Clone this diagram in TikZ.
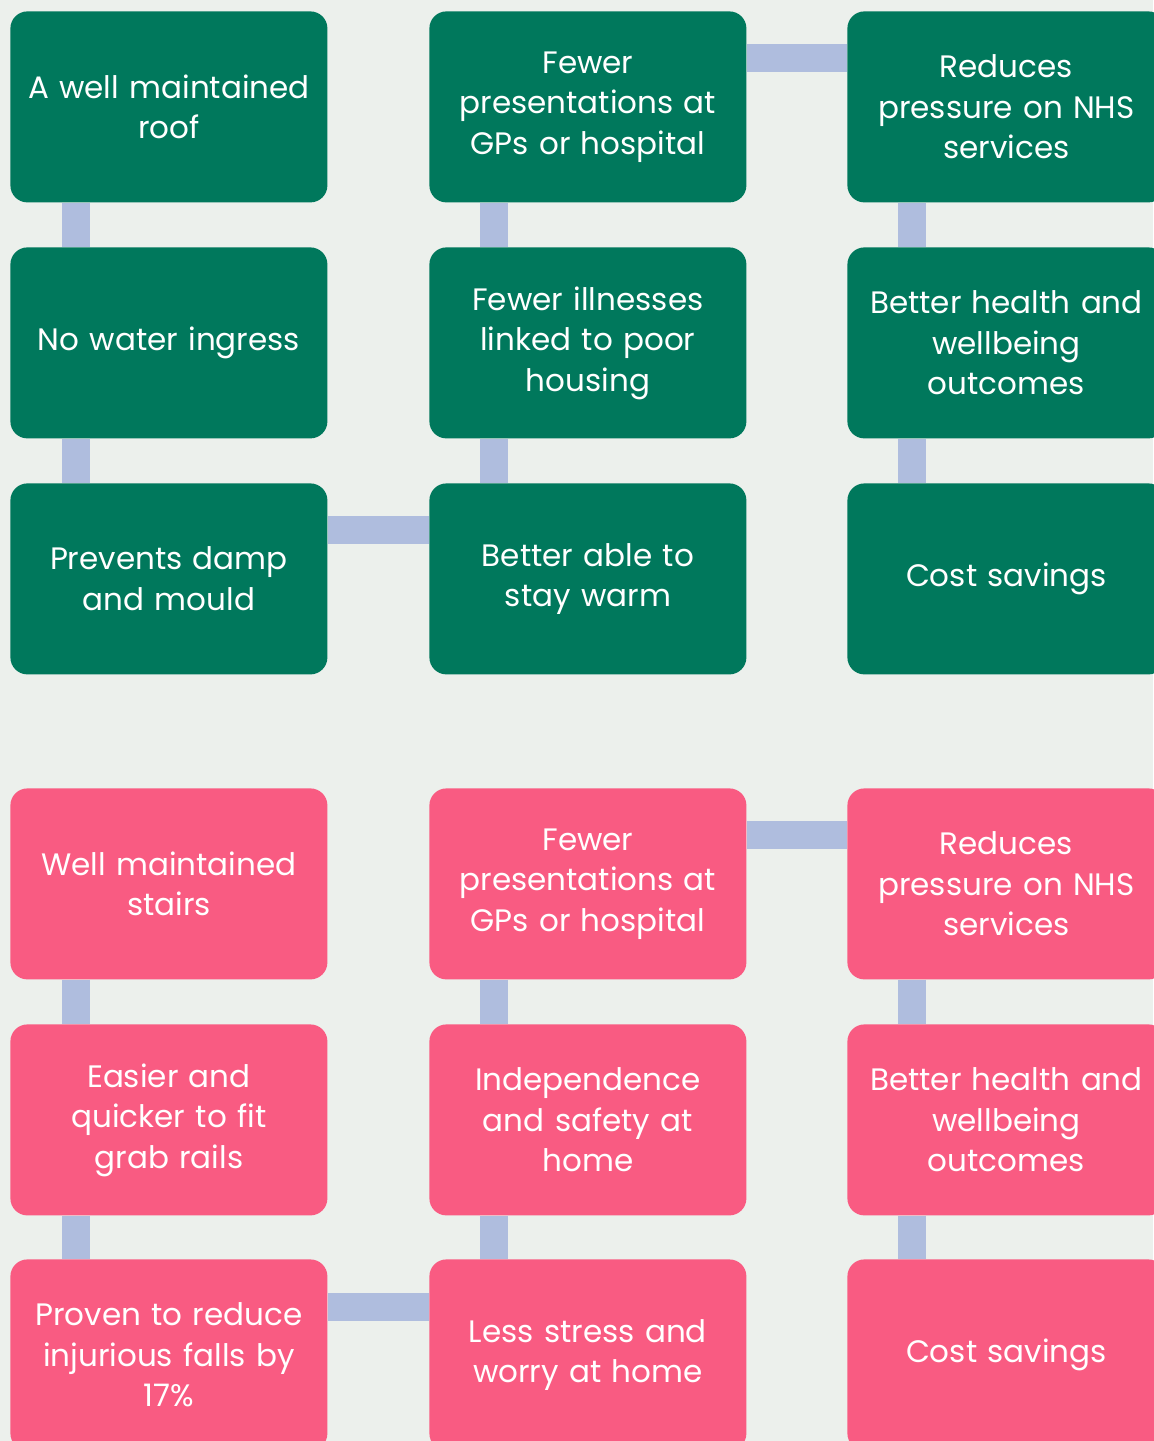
\documentclass[tikz,border=0pt]{standalone}
\usepackage{fontspec}
\setmainfont{Poppins}
\usetikzlibrary{backgrounds}
\definecolor{bg}{RGB}{236,240,236}
\definecolor{grn}{RGB}{0,120,92}
\definecolor{pnk}{RGB}{249,91,130}
\definecolor{lnk}{RGB}{175,189,222}
\tikzset{
  card/.style={rounded corners=8.5pt, minimum width=158.5pt, minimum height=95.5pt,
    inner sep=0pt, text width=155pt, align=center, text=white,
    font=\fontsize{15.5}{20.25}\selectfont, anchor=north west},
  gcard/.style={card, fill=grn},
  pcard/.style={card, fill=pnk},
  wide/.style={minimum width=159pt, text width=155pt},
  link/.style={draw=lnk, line width=14pt}
}
\begin{document}
\begin{tikzpicture}[x=0.5pt,y=-0.5pt]
\useasboundingbox (0,0) rectangle (1153,1441);
% green group
\node[gcard] (g11) at (10,11) {A well maintained\\roof};
\node[gcard] (g21) at (10,247) {No water ingress};
\node[gcard] (g31) at (10,483) {Prevents damp\\and mould};
\node[gcard] (g12) at (429,11) {Fewer\\presentations at\\GPs or hospital};
\node[gcard] (g22) at (429,247) {Fewer illnesses\\linked to poor\\housing};
\node[gcard] (g32) at (429,483) {Better able to\\stay warm};
\node[gcard, wide] (g13) at (847,11) {Reduces\\pressure on NHS\\services};
\node[gcard, wide] (g23) at (847,247) {Better health and\\wellbeing\\outcomes};
\node[gcard, wide] (g33) at (847,483) {Cost savings};
% pink group
\node[pcard] (p11) at (10,788) {Well maintained\\stairs};
\node[pcard] (p21) at (10,1024) {Easier and\\quicker to fit\\grab rails};
\node[pcard] (p31) at (10,1259) {Proven to reduce\\injurious falls by\\17\%};
\node[pcard] (p12) at (429,788) {Fewer\\presentations at\\GPs or hospital};
\node[pcard] (p22) at (429,1024) {Independence\\and safety at\\home};
\node[pcard] (p32) at (429,1259) {Less stress and\\worry at home};
\node[pcard, wide] (p13) at (847,788) {Reduces\\pressure on NHS\\services};
\node[pcard, wide] (p23) at (847,1024) {Better health and\\wellbeing\\outcomes};
\node[pcard, wide] (p33) at (847,1259) {Cost savings};
\begin{scope}[on background layer]
\fill[bg] (0,0) rectangle (1153,1441);
% green connectors
\draw[link] ([xshift=32.75pt]g11.south west) -- ([xshift=32.75pt]g21.north west);
\draw[link] ([xshift=32.75pt]g21.south west) -- ([xshift=32.75pt]g31.north west);
\draw[link] ([xshift=32.5pt]g12.south west) -- ([xshift=32.5pt]g22.north west);
\draw[link] ([xshift=32.5pt]g22.south west) -- ([xshift=32.5pt]g32.north west);
\draw[link] ([xshift=32.5pt]g13.south west) -- ([xshift=32.5pt]g23.north west);
\draw[link] ([xshift=32.5pt]g23.south west) -- ([xshift=32.5pt]g33.north west);
\draw[link] ([yshift=-23.5pt]g31.north east) -- ([yshift=-23.5pt]g32.north west);
\draw[link] ([yshift=-23.5pt]g12.north east) -- ([yshift=-23.5pt]g13.north west);
% pink connectors
\draw[link] ([xshift=32.75pt]p11.south west) -- ([xshift=32.75pt]p21.north west);
\draw[link] ([xshift=32.75pt]p21.south west) -- ([xshift=32.75pt]p31.north west);
\draw[link] ([xshift=32.5pt]p12.south west) -- ([xshift=32.5pt]p22.north west);
\draw[link] ([xshift=32.5pt]p22.south west) -- ([xshift=32.5pt]p32.north west);
\draw[link] ([xshift=32.5pt]p13.south west) -- ([xshift=32.5pt]p23.north west);
\draw[link] ([xshift=32.5pt]p23.south west) -- ([xshift=32.5pt]p33.north west);
\draw[link] ([yshift=-24pt]p31.north east) -- ([yshift=-24pt]p32.north west);
\draw[link] ([yshift=-23.5pt]p12.north east) -- ([yshift=-23.5pt]p13.north west);
\end{scope}
\end{tikzpicture}
\end{document}
